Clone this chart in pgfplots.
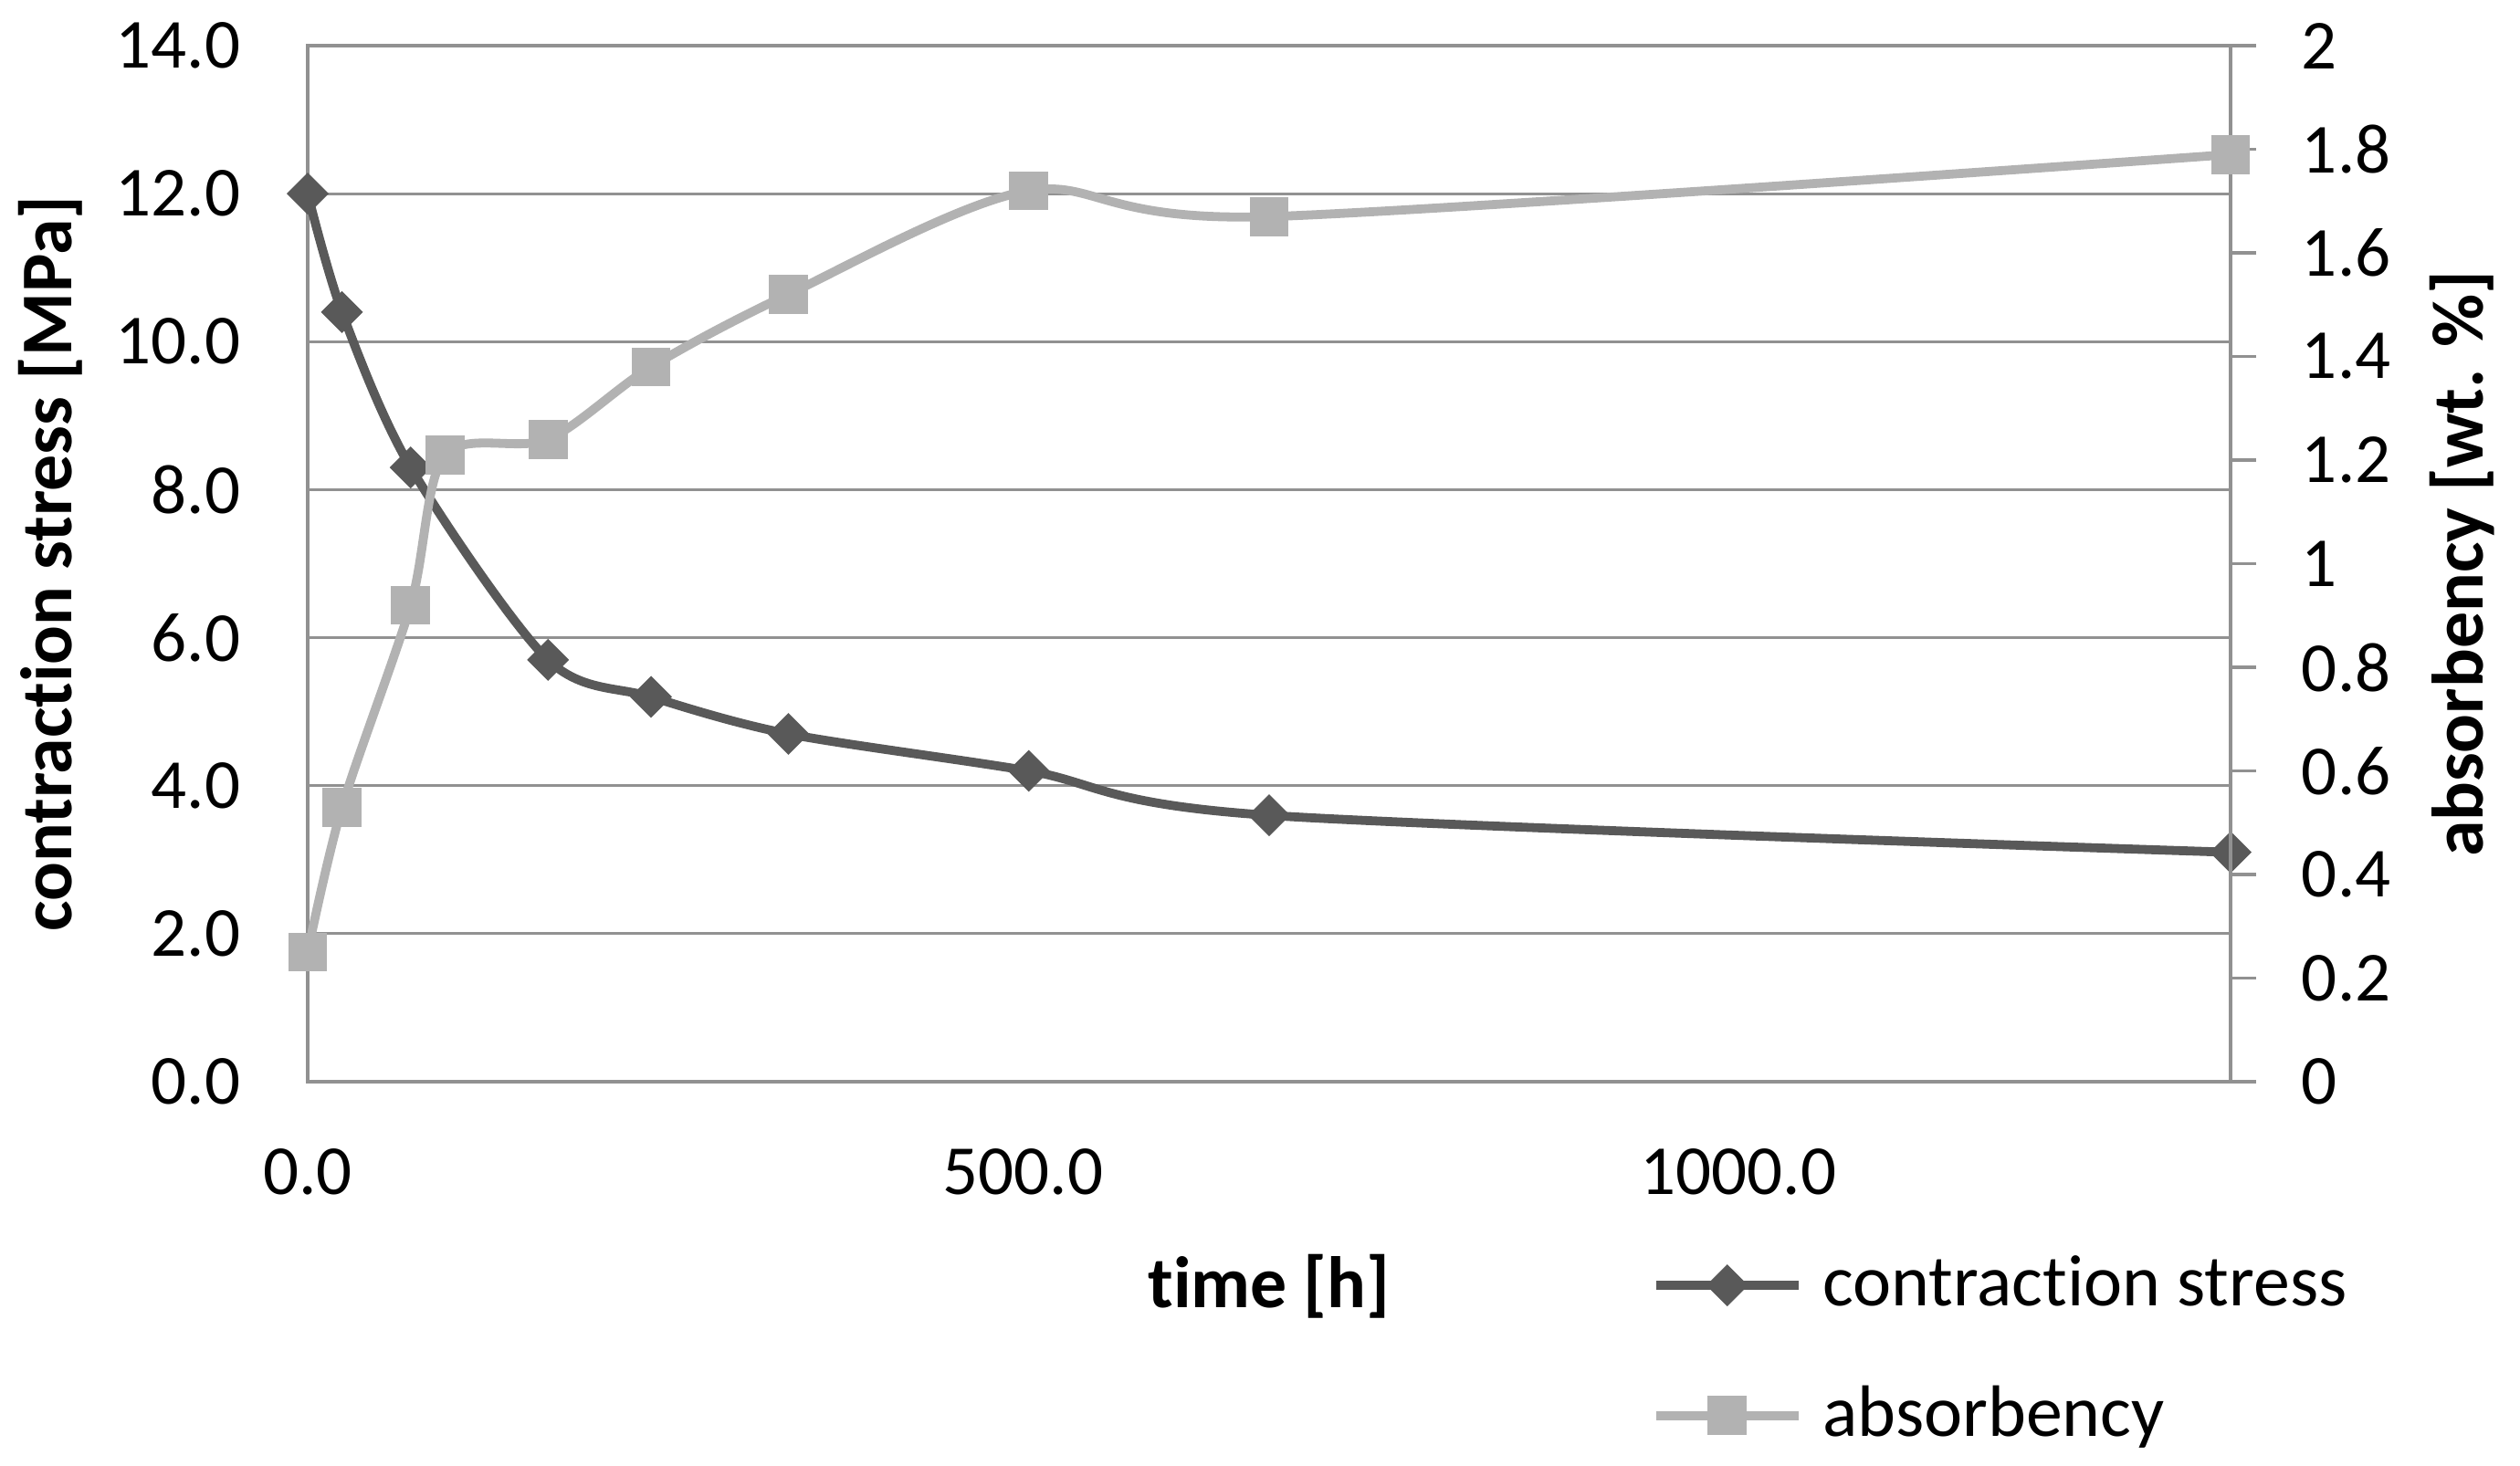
\documentclass[border=0pt]{standalone}
\usepackage{fontspec}
\setmainfont{Carlito}[Ligatures=NoCommon]
\usepackage{pgfplots}
\pgfplotsset{compat=1.18}
\definecolor{darkser}{RGB}{89,89,89}
\definecolor{lightser}{RGB}{178,178,178}
\definecolor{gridc}{RGB}{145,145,145}
\pgfplotstableread{
t s
0 12.0
24 10.4
72 8.3
168 5.7
240 5.2
336 4.7
504 4.2
672 3.6
1344 3.1
}\stresstab
\pgfplotstableread{
t a
0 0.25
24 0.53
72 0.92
96 1.21
168 1.24
240 1.38
336 1.52
504 1.72
672 1.67
1344 1.79
}\abstab
\begin{document}
\begin{tikzpicture}
\path[use as bounding box] (-48.14pt,-60pt) rectangle (346.14pt,169.29pt);
\pgfplotsset{
  every axis/.append style={
    scale only axis, width=300.86pt, height=162.14pt,
    at={(0,0)}, anchor=south west,
    xmin=0, xmax=1344,
  },
  legend image code/.code={\path[use as bounding box, draw=none, fill=none] (0pt,-3pt) rectangle (22.8pt,3pt);\draw[mark repeat=2,mark phase=2,#1] plot coordinates {(0pt,0pt) (11.15pt,0pt) (22.3pt,0pt)};},
}
\begin{axis}[
  ymin=0, ymax=14,
  ytick={0,2,4,6,8,10,12,14},
  xtick={0,500,1000},
  axis line style={gridc, line width=0.45pt},
  ymajorgrids, grid style={gridc, line width=0.45pt},
  tick style={draw=none},
  /pgf/number format/fixed,
  /pgf/number format/fixed zerofill,
  /pgf/number format/precision=1,
  /pgf/number format/1000 sep={},
  /pgf/number format/assume math mode=true,
  tick label style={font=\fontsize{11}{13}\selectfont},
  yticklabel style={xshift=-7pt},
  xticklabel style={yshift=-7pt},
  xlabel={time [h]},
  ylabel={contraction stress [MPa]},
  xlabel style={at={([yshift=-32.1pt]axis description cs:0.5,0)}, anchor=center, font=\bfseries\fontsize{11.4}{13}\selectfont},
  ylabel style={at={([xshift=-40.3pt]axis description cs:0,0.5)}, anchor=center, font=\bfseries\fontsize{11.4}{13}\selectfont},
]
\addplot[darkser, line width=1.4pt, smooth, mark=square*, mark size=2.12pt, mark options={rotate=45, solid, fill=darkser, line width=0.4pt}] table[x=t, y=s] {\stresstab};
\end{axis}
\begin{axis}[
  ymin=0, ymax=2,
  axis y line*=right, axis x line=none,
  ytick={0,0.2,0.4,0.6,0.8,1,1.2,1.4,1.6,1.8,2},
  y axis line style={gridc, line width=0.45pt},
  ytick style={gridc, line width=0.45pt},
  tick align=outside, major tick length=4pt,
  /pgf/number format/assume math mode=true,
  tick label style={font=\fontsize{11}{13}\selectfont},
  yticklabel style={xshift=3.6pt},
  ylabel={absorbency [wt. \%]},
  ylabel style={at={([xshift=36.2pt]axis description cs:1,0.5)}, anchor=center, font=\bfseries\fontsize{11.4}{13}\selectfont},
  legend style={draw=none, fill=none, at={(axis description cs:0,0)}, anchor=north west, xshift=207.75pt, yshift=-23pt, font=\fontsize{11.4}{13}\selectfont, row sep=7pt, nodes={inner xsep=3.3pt}},
  legend cell align=left,
]
\addlegendimage{darkser, line width=1.4pt, mark=square*, mark size=2.12pt, mark options={rotate=45, solid, fill=darkser, line width=0.4pt}}
\addlegendentry{contraction stress}
\addplot[lightser, line width=1.4pt, smooth, mark=square*, mark size=2.85pt, mark options={solid, fill=lightser, line width=0.4pt}] table[x=t, y=a] {\abstab};
\addlegendentry{absorbency}
\end{axis}
\end{tikzpicture}
\end{document}
